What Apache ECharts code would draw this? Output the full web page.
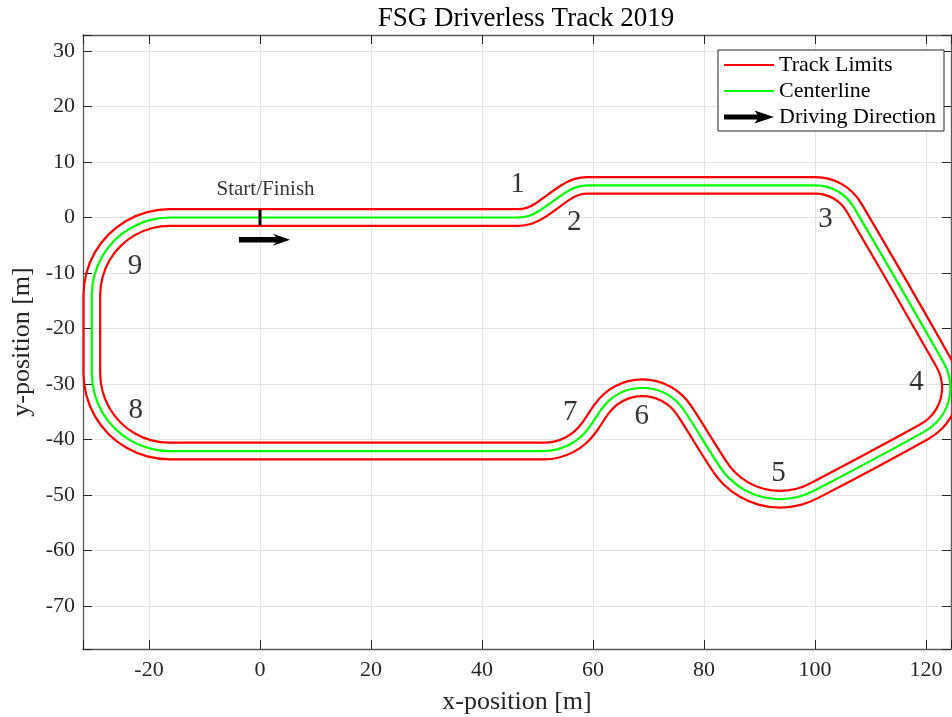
<!DOCTYPE html>
<html>
<head>
<meta charset="utf-8">
<script src="https://cdn.jsdelivr.net/npm/echarts@6/dist/echarts.min.js"></script>
<style>
html,body{margin:0;padding:0;background:#ffffff;}
#chart{width:952px;height:717px;}
</style>
</head>
<body>
<div id="chart"></div>
<script>
// ---------- data (metres) ----------
const centerline = [
  [10, 0], [46.5, 0], [48.51, 0.31], [50.34, 1.21], [55.16, 4.58], [56.99, 5.48], [59.0, 5.79],
  [100.1, 5.79], [102.17, 5.52], [104.1, 4.72], [105.76, 3.45], [107.03, 1.79],
  [123.19, -26.2], [124.09, -28.37], [124.4, -30.7], [124.09, -33.03], [123.19, -35.2], [121.76, -37.06], [119.63, -38.65],
  [99.80, -49.27], [97.06, -50.35], [93.7, -50.79], [90.34, -50.35], [87.2, -49.05], [84.51, -46.98], [82.68, -44.68],
  [76.53, -34.93], [75.04, -33.12], [73.13, -31.75], [71.08, -30.97], [68.9, -30.7], [66.72, -30.97], [64.67, -31.75], [62.88, -33.01], [61.44, -34.67],
  [59.41, -37.69], [57.81, -39.53], [55.82, -40.93], [53.54, -41.80], [51.12, -42.1],
  [-16.3, -42.1], [-19.92, -41.62], [-23.3, -40.22], [-26.2, -38.0], [-28.42, -35.1], [-29.82, -31.72], [-30.3, -28.1],
  [-30.3, -14.0], [-29.82, -10.38], [-28.42, -7.0], [-26.2, -4.1], [-23.3, -1.88], [-19.92, -0.48], [-16.3, 0], [10, 0]
];
const outerLimit = [
  [10, 1.5], [46.5, 1.5], [48.06, 1.74], [49.48, 2.44], [54.30, 5.81], [56.53, 6.91], [59.0, 7.29],
  [100.1, 7.29], [102.56, 6.97], [104.85, 6.02], [106.82, 4.51], [108.33, 2.54],
  [124.49, -25.45], [125.54, -27.98], [125.9, -30.7], [125.54, -33.42], [124.49, -35.95], [122.82, -38.12], [120.33, -39.97],
  [100.51, -50.59], [97.45, -51.80], [93.7, -52.29], [89.95, -51.80], [86.45, -50.35], [83.45, -48.04], [81.40, -45.47],
  [75.26, -35.73], [74.02, -34.21], [72.42, -33.08], [70.71, -32.42], [68.9, -32.2], [67.09, -32.42], [65.38, -33.08], [63.88, -34.13], [62.68, -35.51],
  [60.65, -38.53], [58.81, -40.65], [56.52, -42.25], [53.9, -43.26], [51.12, -43.6],
  [-16.3, -43.6], [-20.31, -43.07], [-24.05, -41.52], [-27.26, -39.06], [-29.72, -35.85], [-31.27, -32.11], [-31.8, -28.1],
  [-31.8, -14.0], [-31.27, -9.99], [-29.72, -6.25], [-27.26, -3.04], [-24.05, -0.58], [-20.31, 0.97], [-16.3, 1.5], [10, 1.5]
];
const innerLimit = [
  [10, -1.5], [46.5, -1.5], [48.97, -1.12], [51.20, -0.02], [56.02, 3.35], [57.44, 4.05], [59.0, 4.29],
  [100.1, 4.29], [101.78, 4.07], [103.35, 3.42], [104.70, 2.39], [105.73, 1.04],
  [121.9, -26.95], [122.64, -28.76], [122.9, -30.7], [122.64, -32.64], [121.9, -34.45], [120.7, -36.0], [118.92, -37.32],
  [99.10, -47.94], [96.68, -48.90], [93.7, -49.29], [90.72, -48.90], [87.95, -47.75], [85.57, -45.92], [83.95, -43.88],
  [77.80, -34.14], [76.06, -32.02], [73.83, -30.43], [71.44, -29.51], [68.9, -29.2], [66.36, -29.51], [63.97, -30.43], [61.87, -31.90], [60.20, -33.83],
  [58.17, -36.85], [56.81, -38.42], [55.11, -39.60], [53.18, -40.35], [51.12, -40.6],
  [-16.3, -40.6], [-19.54, -40.17], [-22.55, -38.93], [-25.14, -36.94], [-27.13, -34.35], [-28.37, -31.34], [-28.8, -28.1],
  [-28.8, -14.0], [-28.37, -10.76], [-27.13, -7.75], [-25.14, -5.16], [-22.55, -3.17], [-19.54, -1.93], [-16.3, -1.5], [10, -1.5]
];
const startLine = [[0, -1.4], [0, 1.4]];
const directionArrow = [-3.8, -4.0, 5.4, -4.0]; // tail x, tail y, tip x, tip y
const cornerNames = ['1', '2', '3', '4', '5', '6', '7', '8', '9'];
const cornerX = [46.4, 56.6, 101.9, 118.3, 93.4, 68.8, 55.9, -22.4, -22.5];
const cornerY = [6.0, -0.9, -0.4, -29.8, -46.2, -35.9, -35.1, -34.8, -8.8];
const startLabel = {text: 'Start/Finish', x: 1.0, y: 5.1};
const xTickLabels = [-20, 0, 20, 40, 60, 80, 100, 120];
const yTickLabels = [-70, -60, -50, -40, -30, -20, -10, 0, 10, 20, 30];

// ---------- chart ----------
const FONT = "'Liberation Serif', 'Times New Roman', serif";
const X_MIN = -31.89, X_MAX = 124.5, Y_MIN = -77.79, Y_MAX = 32.9;

const chart = echarts.init(document.getElementById('chart'), null, {renderer: 'canvas'});

const axisCommon = {
  type: 'value',
  axisLine: {show: true, onZero: false, lineStyle: {color: '#5a5a5a', width: 1.3}},
  axisTick: {show: true, inside: true, length: 9, lineStyle: {color: '#262626', width: 1}},
  minorTick: {show: false},
};

const cornerData = cornerNames.map((n, i) => ({name: n, value: [cornerX[i], cornerY[i]]}));
const noSymbol = {opacity: 0, color: 'rgba(0,0,0,0)', borderWidth: 0};

const option = {
  backgroundColor: '#ffffff',
  animation: false,
  title: {
    text: 'FSG Driverless Track 2019',
    left: 521, top: 0, textAlign: 'center',
    textStyle: {fontFamily: FONT, fontSize: 27, fontWeight: 'normal', color: '#000000'}
  },
  grid: {left: 83, right: 1, top: 35, bottom: 68, containLabel: false, outerBoundsMode: 'none'},
  legend: {
    orient: 'vertical', left: 718, top: 50,
    padding: [2, 3, 1, 5], itemGap: 0, itemWidth: 50, itemHeight: 14,
    backgroundColor: '#ffffff', borderColor: '#262626', borderWidth: 1, borderRadius: 0,
    selectedMode: false,
    textStyle: {fontFamily: FONT, fontSize: 22, color: '#000000', lineHeight: 26, width: 162},
    data: [
      {name: 'Track Limits', itemStyle: noSymbol},
      {name: 'Centerline', itemStyle: noSymbol},
      {name: 'Driving Direction', icon: 'path://M0,4.2 L36,4.2 L33,0 L54,7 L33,14 L36,9.8 L0,9.8 Z'}
    ]
  },
  xAxis: [
    Object.assign({}, axisCommon, {
      position: 'bottom', min: X_MIN, max: X_MAX, splitNumber: 8, minInterval: 20, maxInterval: 20,
      name: 'x-position [m]', nameLocation: 'middle', nameGap: 40,
      nameTextStyle: {fontFamily: FONT, fontSize: 26, color: '#262626'},
      axisLabel: {show: true, margin: 10, fontFamily: FONT, fontSize: 22, color: '#262626',
        showMinLabel: true, showMaxLabel: true, hideOverlap: false,
        formatter: v => (xTickLabels.indexOf(Math.round(v * 1000) / 1000) >= 0 ? String(Math.round(v)) : '')},
      splitLine: {show: true, lineStyle: {color: '#e3e3e3', width: 1}}
    }),
    Object.assign({}, axisCommon, {
      position: 'top', min: X_MIN, max: X_MAX, splitNumber: 8, minInterval: 20, maxInterval: 20,
      axisLabel: {show: false}, splitLine: {show: false}
    })
  ],
  yAxis: [
    Object.assign({}, axisCommon, {
      position: 'left', min: Y_MIN, max: Y_MAX, splitNumber: 11, minInterval: 10, maxInterval: 10,
      name: 'y-position [m]', nameLocation: 'middle', nameGap: 43,
      nameTextStyle: {fontFamily: FONT, fontSize: 26, color: '#262626'},
      axisLabel: {show: true, margin: 8, fontFamily: FONT, fontSize: 22, color: '#262626',
        showMinLabel: true, showMaxLabel: true, hideOverlap: false,
        formatter: v => (yTickLabels.indexOf(Math.round(v * 1000) / 1000) >= 0 ? String(Math.round(v)) : '')},
      splitLine: {show: true, lineStyle: {color: '#e3e3e3', width: 1}}
    }),
    Object.assign({}, axisCommon, {
      position: 'right', min: Y_MIN, max: Y_MAX, splitNumber: 11, minInterval: 10, maxInterval: 10,
      axisLabel: {show: false}, splitLine: {show: false}
    })
  ],
  series: [
    {
      name: 'Track Limits', type: 'line', data: outerLimit, symbol: 'none', silent: true, clip: true, smooth: 0.33,
      lineStyle: {color: '#ff0000', width: 2.2}, itemStyle: {color: '#ff0000'}, z: 2
    },
    {
      name: 'Track Limits', type: 'line', data: innerLimit, symbol: 'none', silent: true, clip: true, smooth: 0.33,
      lineStyle: {color: '#ff0000', width: 2.2}, itemStyle: {color: '#ff0000'}, z: 2
    },
    {
      name: 'Centerline', type: 'line', data: centerline, symbol: 'none', silent: true, clip: true, smooth: 0.33,
      lineStyle: {color: '#00ff00', width: 2.2}, itemStyle: {color: '#00ff00'}, z: 3
    },
    {
      name: 'Start Line', type: 'line', data: startLine, symbol: 'none', silent: true,
      lineStyle: {color: '#000000', width: 3, cap: 'butt'}, itemStyle: {color: '#000000'}, z: 4
    },
    {
      name: 'Driving Direction', type: 'custom', silent: true, z: 4,
      itemStyle: {color: '#000000'},
      encode: {x: [0, 2], y: [1, 3]},
      data: [directionArrow],
      renderItem: function (params, api) {
        const p0 = api.coord([api.value(0), api.value(1)]);
        const p1 = api.coord([api.value(2), api.value(3)]);
        const dx = p1[0] - p0[0], dy = p1[1] - p0[1];
        const len = Math.sqrt(dx * dx + dy * dy);
        const ux = dx / len, uy = dy / len, nx = -uy, ny = ux;
        const hw = 2.8, headLen = 17, headHalf = 6, back = 14;
        const pt = (a, b) => [p0[0] + ux * a + nx * b, p0[1] + uy * a + ny * b];
        return {
          type: 'polygon',
          shape: {points: [pt(0, -hw), pt(len - back, -hw), pt(len - headLen, -headHalf), pt(len, 0),
                           pt(len - headLen, headHalf), pt(len - back, hw), pt(0, hw)]},
          style: {fill: '#000000'}
        };
      }
    },
    {
      name: 'Corners', type: 'scatter', data: cornerData, symbolSize: 1, silent: true, z: 5,
      itemStyle: {color: 'rgba(0,0,0,0)'},
      label: {show: true, position: 'inside', formatter: '{b}', fontFamily: FONT, fontSize: 29, color: '#000000'}
    },
    {
      name: 'Start Label', type: 'scatter', data: [{name: startLabel.text, value: [startLabel.x, startLabel.y]}],
      symbolSize: 1, silent: true, z: 5, itemStyle: {color: 'rgba(0,0,0,0)'},
      label: {show: true, position: 'inside', formatter: '{b}', fontFamily: FONT, fontSize: 21, color: '#000000'}
    }
  ]
};
chart.setOption(option);
</script>
</body>
</html>
